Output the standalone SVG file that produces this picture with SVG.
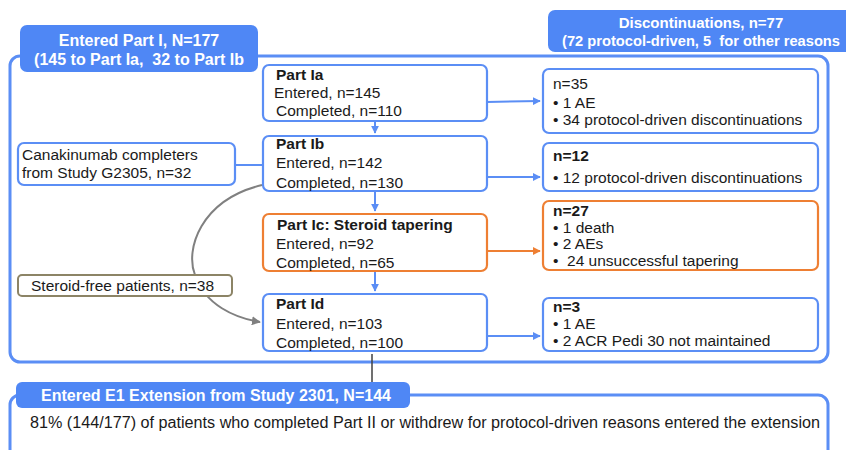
<svg xmlns="http://www.w3.org/2000/svg" width="846" height="450" viewBox="0 0 846 450">
<defs>
<style>
text{font-family:"Liberation Sans",Arial,sans-serif;font-size:15.5px;fill:#1a1a1a;white-space:pre}
.b{font-weight:bold}
.w{fill:#fff;font-weight:bold;text-anchor:middle}
.h16{font-size:16px}
.bl{fill:none;stroke:#5b8ef5;stroke-width:2.2}
.or{fill:none;stroke:#ee7f33;stroke-width:2.2}
.hd{fill:#4f87f5}
.cb{stroke:#5b8ef5;stroke-width:2;fill:none}
.co{stroke:#ee7f33;stroke-width:2;fill:none}
</style>
<marker id="ab" viewBox="0 0 10 10" refX="9" refY="5" markerWidth="4" markerHeight="4" orient="auto" markerUnits="strokeWidth"><path d="M0,0L10,5L0,10z" fill="#5b8ef5"/></marker>
<marker id="ao" viewBox="0 0 10 10" refX="9" refY="5" markerWidth="4" markerHeight="4" orient="auto" markerUnits="strokeWidth"><path d="M0,0L10,5L0,10z" fill="#ee7f33"/></marker>
<marker id="ag" viewBox="0 0 10 10" refX="9" refY="5" markerWidth="4.5" markerHeight="4.5" orient="auto" markerUnits="strokeWidth"><path d="M0,0L10,5L0,10z" fill="#808080"/></marker>
</defs>
<rect width="846" height="450" fill="#fff"/>

<g id="container-part1"><rect x="10" y="56" width="818" height="306" rx="10" fill="none" stroke="#5b8ef5" stroke-width="3"/></g>
<g id="container-ext"><rect x="10" y="395" width="818" height="90" rx="10" fill="none" stroke="#5b8ef5" stroke-width="3"/></g>

<g id="connectors">
<path class="cb" d="M375,121V133" marker-end="url(#ab)"/>
<path class="cb" d="M375,191V211" marker-end="url(#ab)"/>
<path class="cb" d="M375,271V291" marker-end="url(#ab)"/>
<path class="cb" d="M487,102L540,101" marker-end="url(#ab)"/>
<path class="cb" d="M487,177H540" marker-end="url(#ab)"/>
<path class="co" d="M487,251H540" marker-end="url(#ao)"/>
<path class="cb" d="M487,336H540" marker-end="url(#ab)"/>
<path class="cb" d="M235,165H263"/>
<path d="M262,185C200,200 185,250 195,275C205,305 235,318 260,322" fill="none" stroke="#808080" stroke-width="2" marker-end="url(#ag)"/>
<path d="M372,354V382" stroke="#404040" stroke-width="1.5" fill="none"/>
</g>

<g id="hdr-part1"><rect class="hd" x="20" y="25" width="238" height="47" rx="7"/>
<text class="w h16" x="139" y="46">Entered Part I, N=177</text>
<text class="w h16" x="139" y="65">(145 to Part Ia,  32 to Part Ib</text></g>

<g id="hdr-disc"><rect class="hd" x="548" y="10" width="310" height="42" rx="7"/>
<text class="w" x="701" y="28" style="font-size:15px">Discontinuations, n=77</text>
<text class="b" x="562" y="46" style="fill:#fff;font-size:15px" textLength="278" lengthAdjust="spacingAndGlyphs">(72 protocol-driven, 5  for other reasons</text></g>

<g id="part-ia"><rect class="bl" x="263" y="65" width="224" height="56" rx="6"/>
<text class="b" x="276" y="80">Part Ia</text>
<text x="274" y="98">Entered, n=145</text>
<text x="276" y="116">Completed, n=110</text></g>

<g id="part-ib"><rect class="bl" x="263" y="136" width="224" height="55" rx="6"/>
<text class="b" x="276" y="149">Part Ib</text>
<text x="276" y="168">Entered, n=142</text>
<text x="276" y="188">Completed, n=130</text></g>

<g id="part-ic"><rect class="or" x="263" y="214" width="224" height="57" rx="6"/>
<text class="b" x="277" y="230">Part Ic: Steroid tapering</text>
<text x="276" y="249">Entered, n=92</text>
<text x="276" y="268">Completed, n=65</text></g>

<g id="part-id"><rect class="bl" x="263" y="294" width="224" height="57" rx="6"/>
<text class="b" x="276" y="309">Part Id</text>
<text x="276" y="329">Entered, n=103</text>
<text x="276" y="348">Completed, n=100</text></g>

<g id="disc-ia"><rect class="bl" x="543" y="69" width="275" height="64" rx="6"/>
<text x="553" y="89">n=35</text>
<text x="553" y="108">• 1 AE</text>
<text x="553" y="125">• 34 protocol-driven discontinuations</text></g>

<g id="disc-ib"><rect class="bl" x="543" y="143" width="275" height="48" rx="6"/>
<text class="b" x="553" y="161">n=12</text>
<text x="553" y="183">• 12 protocol-driven discontinuations</text></g>

<g id="disc-ic"><rect class="or" x="543" y="201" width="275" height="69" rx="6"/>
<text class="b" x="553" y="216">n=27</text>
<text x="553" y="233">• 1 death</text>
<text x="553" y="249">• 2 AEs</text>
<text x="553" y="266">•  24 unsuccessful tapering</text></g>

<g id="disc-id"><rect class="bl" x="543" y="298" width="275" height="53" rx="6"/>
<text class="b" x="553" y="312">n=3</text>
<text x="553" y="329">• 1 AE</text>
<text x="553" y="346">• 2 ACR Pedi 30 not maintained</text></g>

<g id="canakinumab"><rect class="bl" x="18" y="143" width="217" height="42" rx="6"/>
<text x="22" y="160">Canakinumab completers</text>
<text x="22" y="178">from Study G2305, n=32</text></g>

<g id="steroid-free"><rect x="18" y="275" width="214" height="21" rx="4" fill="#fff" stroke="#8c8466" stroke-width="2"/>
<text x="31" y="291">Steroid-free patients, n=38</text></g>

<g id="hdr-ext"><rect class="hd" x="16" y="382" width="394" height="26" rx="6"/>
<text class="w h16" x="216" y="401">Entered E1 Extension from Study 2301, N=144</text></g>

<g id="ext-text"><text class="h16" x="30" y="428" textLength="790" lengthAdjust="spacingAndGlyphs">81% (144/177) of patients who completed Part II or withdrew for protocol-driven reasons entered the extension</text></g>
</svg>
